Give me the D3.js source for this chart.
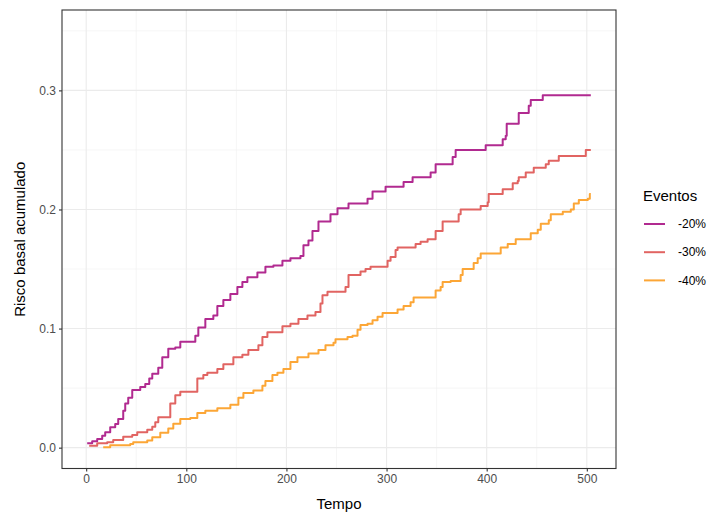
<!DOCTYPE html>
<html>
<head>
<meta charset="utf-8">
<script src="https://cdn.jsdelivr.net/npm/d3@7"></script>
<style>
  html, body { margin: 0; padding: 0; background: #ffffff; }
  svg { display: block; }
  text { font-family: "Liberation Sans", Arial, sans-serif; }
</style>
</head>
<body>
<svg id="chart" width="712" height="513"></svg>
<script>
// Cumulative baseline hazard by event reduction scenario (step functions)
const seriesNames = ["-20%", "-30%", "-40%"];
const seriesColors = ["#B12A90", "#E16462", "#FCA636"];

const timesA = [1, 6, 11, 16, 19, 24, 29, 32, 37, 39, 42, 46, 54, 59, 63, 66, 72, 76, 82, 89, 94, 109, 112, 119, 127, 131, 137, 144, 151, 156, 161, 171, 179, 187, 196, 204, 214, 217, 222, 226, 232, 244, 251, 262, 281, 286, 299, 317, 326, 344, 349, 366, 369, 399, 416, 419, 420, 432, 442, 444, 456, 504];
const riskA  = [0.0036, 0.0053, 0.0073, 0.0101, 0.0129, 0.0171, 0.0199, 0.0241, 0.031, 0.037, 0.042, 0.0485, 0.051, 0.0535, 0.058, 0.062, 0.067, 0.076, 0.083, 0.084, 0.089, 0.094, 0.101, 0.108, 0.111, 0.119, 0.124, 0.129, 0.135, 0.139, 0.143, 0.147, 0.152, 0.153, 0.157, 0.159, 0.161, 0.170, 0.174, 0.182, 0.190, 0.196, 0.201, 0.205, 0.209, 0.215, 0.219, 0.223, 0.227, 0.231, 0.238, 0.244, 0.250, 0.254, 0.259, 0.262, 0.272, 0.281, 0.287, 0.292, 0.296, 0.296];

const timesB = [3, 11, 21, 27, 37, 46, 51, 61, 66, 69, 72, 84, 89, 94, 111, 117, 121, 131, 137, 147, 156, 162, 172, 176, 181, 196, 204, 212, 221, 229, 234, 236, 241, 259, 262, 274, 279, 284, 301, 304, 309, 311, 329, 334, 341, 349, 356, 372, 374, 394, 401, 402, 416, 426, 431, 432, 439, 447, 459, 462, 472, 499, 504];
const riskB  = [0.0017, 0.0036, 0.0045, 0.0065, 0.0092, 0.0107, 0.0129, 0.0151, 0.0176, 0.0213, 0.0255, 0.037, 0.044, 0.047, 0.058, 0.061, 0.063, 0.066, 0.070, 0.076, 0.078, 0.082, 0.086, 0.093, 0.097, 0.102, 0.104, 0.108, 0.111, 0.114, 0.121, 0.128, 0.131, 0.135, 0.145, 0.148, 0.150, 0.152, 0.157, 0.160, 0.166, 0.168, 0.171, 0.173, 0.175, 0.182, 0.190, 0.196, 0.200, 0.203, 0.206, 0.213, 0.217, 0.222, 0.224, 0.227, 0.231, 0.235, 0.238, 0.241, 0.245, 0.250, 0.250];

const timesC = [17, 24, 44, 47, 61, 66, 74, 82, 87, 94, 104, 111, 119, 131, 144, 152, 157, 167, 176, 179, 186, 191, 197, 204, 211, 222, 232, 239, 247, 249, 261, 266, 271, 274, 281, 286, 291, 296, 311, 317, 324, 327, 349, 354, 356, 364, 374, 376, 387, 391, 394, 414, 421, 429, 444, 451, 454, 462, 464, 476, 484, 487, 492, 501, 503, 504];
const riskC  = [0.0003, 0.002, 0.003, 0.0045, 0.006, 0.0087, 0.0126, 0.016, 0.020, 0.024, 0.025, 0.029, 0.031, 0.033, 0.036, 0.042, 0.046, 0.048, 0.052, 0.056, 0.061, 0.063, 0.066, 0.072, 0.076, 0.079, 0.082, 0.086, 0.088, 0.091, 0.093, 0.094, 0.099, 0.103, 0.104, 0.107, 0.110, 0.113, 0.116, 0.119, 0.122, 0.126, 0.132, 0.135, 0.139, 0.140, 0.145, 0.150, 0.155, 0.159, 0.163, 0.168, 0.171, 0.175, 0.180, 0.183, 0.188, 0.191, 0.196, 0.198, 0.200, 0.205, 0.208, 0.209, 0.213, 0.213];

const xTicks = [0, 100, 200, 300, 400, 500];
const xMinor = [50, 150, 250, 350, 450];
const yTicks = [0, 0.1, 0.2, 0.3];
const yMinor = [0.05, 0.15, 0.25, 0.35];

const xTitle = "Tempo";
const yTitle = "Risco basal acumulado";
const legendTitle = "Eventos";

const seriesTimes = [timesA, timesB, timesC];
const seriesRisk = [riskA, riskB, riskC];
const series = seriesNames.map((name, i) => ({
  name,
  color: seriesColors[i],
  points: seriesTimes[i].map((t, j) => ({ t, v: seriesRisk[i][j] }))
}));

const panel = { left: 62, right: 616, top: 10, bottom: 468.5 };

const x = d3.scaleLinear().domain([-24.15, 529.15]).range([panel.left, panel.right]);
const y = d3.scaleLinear().domain([-0.0175, 0.3675]).range([panel.bottom, panel.top]);

const svg = d3.select("#chart");
svg.append("rect").attr("width", 712).attr("height", 513).attr("fill", "#ffffff");

// grid
const grid = svg.append("g");
grid.selectAll(".ymin").data(yMinor).join("line")
  .attr("x1", panel.left).attr("x2", panel.right)
  .attr("y1", d => y(d)).attr("y2", d => y(d))
  .attr("stroke", "#F0F0F0").attr("stroke-width", 0.6);
grid.selectAll(".xmin").data(xMinor).join("line")
  .attr("y1", panel.top).attr("y2", panel.bottom)
  .attr("x1", d => x(d)).attr("x2", d => x(d))
  .attr("stroke", "#F0F0F0").attr("stroke-width", 0.6);
grid.selectAll(".ymaj").data(yTicks).join("line")
  .attr("x1", panel.left).attr("x2", panel.right)
  .attr("y1", d => y(d)).attr("y2", d => y(d))
  .attr("stroke", "#EBEBEB").attr("stroke-width", 1.1);
grid.selectAll(".xmaj").data(xTicks).join("line")
  .attr("y1", panel.top).attr("y2", panel.bottom)
  .attr("x1", d => x(d)).attr("x2", d => x(d))
  .attr("stroke", "#EBEBEB").attr("stroke-width", 1.1);

// step lines
const line = d3.line().x(d => x(d.t)).y(d => y(d.v)).curve(d3.curveStepAfter);
svg.append("g").selectAll("path").data(series).join("path")
  .attr("d", d => line(d.points))
  .attr("fill", "none")
  .attr("stroke", d => d.color)
  .attr("stroke-width", 2)
  .attr("stroke-linejoin", "round");

// panel border
svg.append("rect")
  .attr("x", panel.left).attr("y", panel.top)
  .attr("width", panel.right - panel.left).attr("height", panel.bottom - panel.top)
  .attr("fill", "none").attr("stroke", "#333333").attr("stroke-width", 1.1);

// axes
const xAxis = d3.axisBottom(x).tickValues(xTicks).tickSize(3).tickPadding(3).tickFormat(d3.format("d"));
const gx = svg.append("g").attr("transform", `translate(0,${panel.bottom})`).call(xAxis);
gx.select(".domain").remove();
gx.selectAll(".tick line").attr("stroke", "#333333").attr("stroke-width", 1.1);
gx.selectAll(".tick text").attr("fill", "#4D4D4D").attr("font-size", "12px")
  .attr("font-family", "Liberation Sans, Arial, sans-serif");

const yAxis = d3.axisLeft(y).tickValues(yTicks).tickSize(3).tickPadding(3).tickFormat(d3.format(".1f"));
const gy = svg.append("g").attr("transform", `translate(${panel.left},0)`).call(yAxis);
gy.select(".domain").remove();
gy.selectAll(".tick line").attr("stroke", "#333333").attr("stroke-width", 1.1);
gy.selectAll(".tick text").attr("fill", "#4D4D4D").attr("font-size", "12px")
  .attr("font-family", "Liberation Sans, Arial, sans-serif");

// axis titles
svg.append("text")
  .attr("x", (panel.left + panel.right) / 2).attr("y", 509)
  .attr("text-anchor", "middle").attr("font-size", "15px").attr("fill", "#000")
  .text(xTitle);
svg.append("text")
  .attr("transform", `translate(25,${(panel.top + panel.bottom) / 2}) rotate(-90)`)
  .attr("text-anchor", "middle").attr("font-size", "15px").attr("fill", "#000")
  .text(yTitle);

// legend
const legend = svg.append("g").attr("transform", "translate(643,0)");
legend.append("text").attr("x", 0).attr("y", 201)
  .attr("font-size", "15px").attr("fill", "#000").text(legendTitle);
const items = legend.selectAll(".item").data(series).join("g")
  .attr("transform", (d, i) => `translate(0,${224 + i * 28.2})`);
items.append("line").attr("x1", 1).attr("x2", 22).attr("y1", 0).attr("y2", 0)
  .attr("stroke", d => d.color).attr("stroke-width", 2);
items.append("text").attr("x", 35).attr("y", 0).attr("dy", "0.35em")
  .attr("font-size", "12px").attr("fill", "#000").text(d => d.name);
</script>
</body>
</html>
